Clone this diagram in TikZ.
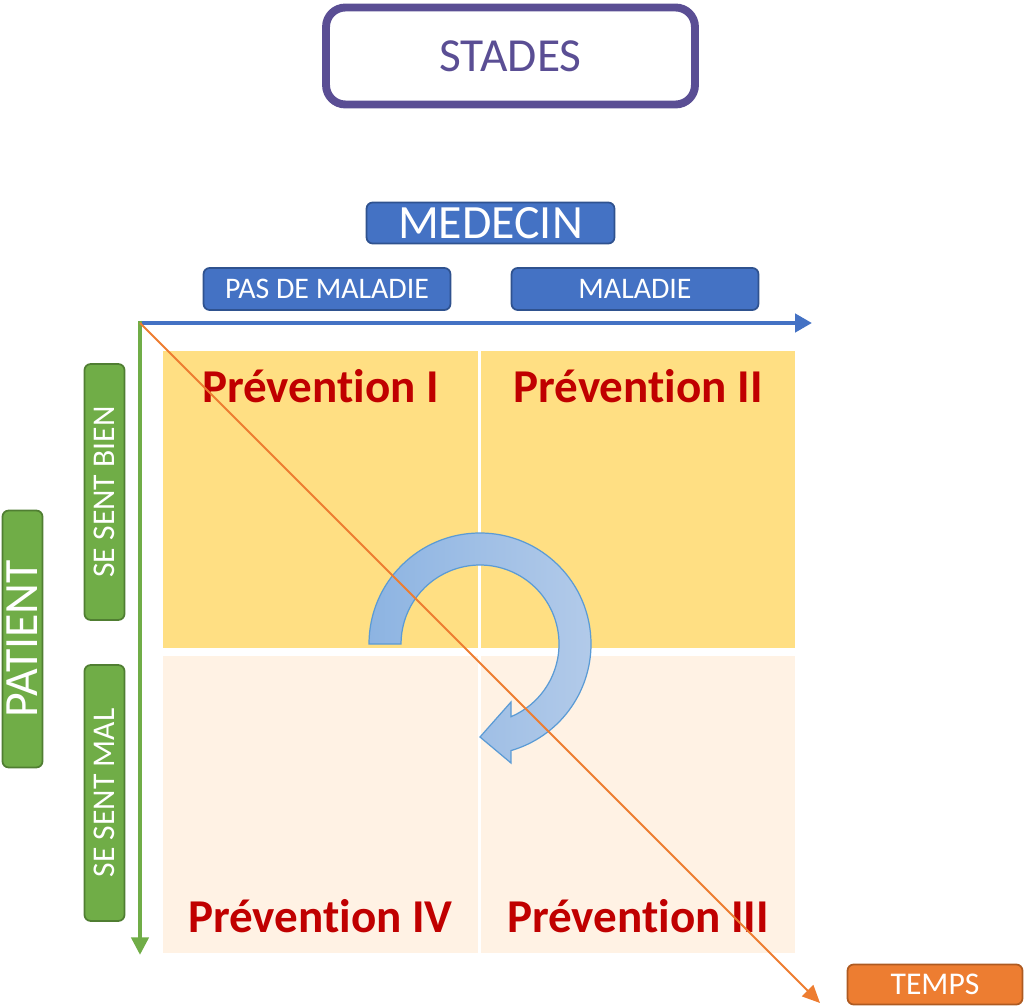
\documentclass[tikz,border=0pt]{standalone}
\usepackage{fontspec}
\setmainfont{Carlito}[Ligatures=NoCommon]
\usetikzlibrary{arrows.meta}

\definecolor{bleu}{HTML}{4472C4}
\definecolor{bleufonce}{HTML}{2F528F}
\definecolor{vert}{HTML}{70AD47}
\definecolor{vertfonce}{HTML}{507E32}
\definecolor{orange}{HTML}{ED7D31}
\definecolor{orangefonce}{HTML}{AE5A21}
\definecolor{violet}{HTML}{5A4E94}
\definecolor{jaune}{HTML}{FFDF83}
\definecolor{creme}{HTML}{FFF2E4}
\definecolor{rouge}{HTML}{C00000}
\definecolor{ciel}{HTML}{8DB4E2}
\definecolor{cielclair}{HTML}{B2CAE9}
\definecolor{cielbord}{HTML}{5B9BD5}

\def\rext{111}
\def\rint{79}

\begin{document}
\begin{tikzpicture}[x=0.02cm,y=-0.02cm,
  boite/.style={draw=#1fonce,fill=#1,line width=1pt,rounded corners=3.5pt,
    inner sep=0pt,text=white},
  petit/.style={font=\fontsize{17}{20}\selectfont},
  moyen/.style={font=\fontsize{18}{21}\selectfont},
  grand/.style={font=\fontsize{27.2}{32}\selectfont},
  prev/.style={anchor=base,text=rouge,font=\fontsize{26.8}{31}\selectfont\bfseries}]

\useasboundingbox (0,0) rectangle (1025,1006);

% titre
\node[draw=violet,line width=4.5pt,rounded corners=11pt,minimum width=7.38cm,
      minimum height=1.94cm,text=violet,font=\fontsize{27}{32}\selectfont]
      (St) at (510.5,56) {STADES};

% medecin
\node[boite=bleu,grand,minimum width=4.96cm,minimum height=0.82cm] (Med) at (490.5,223) {MEDECIN};
\node[boite=bleu,petit,minimum width=4.94cm,minimum height=0.84cm] (PasMal) at (327,289) {PAS DE MALADIE};
\node[boite=bleu,petit,minimum width=4.94cm,minimum height=0.84cm] (Mal) at (635,289) {MALADIE};

% patient
\node[boite=vert,grand,rotate=90,minimum width=5.14cm,minimum height=0.80cm] (Pat) at (22.5,639) {PATIENT};
\node[boite=vert,moyen,rotate=90,minimum width=5.12cm,minimum height=0.80cm] (Bien) at (104.5,492) {SE SENT BIEN};
\node[boite=vert,moyen,rotate=90,minimum width=5.12cm,minimum height=0.80cm] (MalS) at (104.5,793) {SE SENT MAL};

% temps
\node[boite=orange,moyen,minimum width=3.50cm,minimum height=0.80cm] (Temps) at (935,984.5) {TEMPS};

% quadrants
\fill[jaune] (163,351) rectangle (478,648);
\fill[jaune] (481,351) rectangle (795,648);
\fill[creme] (163,656) rectangle (478,953);
\fill[creme] (481,656) rectangle (795,953);

% fleche circulaire
\draw[cielbord,line width=0.7pt,left color=ciel,right color=cielclair]
  (480,644) ++(180:\rext) arc (180:433.8:\rext)
  -- (511,763) -- (480,737) -- (511,702) -- (511,716.7)
  arc (426.9:180:\rint) -- cycle;

% axes
\coordinate (O) at (140,323);
\coordinate (X) at (812,323);
\coordinate (Y) at (140,955);
\coordinate (T) at (820,1003);

\draw[bleu,line width=2.8pt,-{Triangle[length=9.6pt,width=10.2pt]}] (O) -- (X);
\draw[vert,line width=2.6pt,-{Triangle[length=10pt,width=9.6pt]}] ([yshift=1.4pt]O) -- (Y);

\node[prev] (P1) at (320.5,403) {Prévention I};
\node[prev] (P2) at (638,403) {Prévention II};
\node[prev] (P4) at (320.5,932.5) {Prévention IV};
\node[prev] (P3) at (638,932.5) {Prévention III};

\draw[orange,line width=1.2pt,-{Triangle[length=10pt,width=9pt]}] (O) -- (T);

\end{tikzpicture}
\end{document}
